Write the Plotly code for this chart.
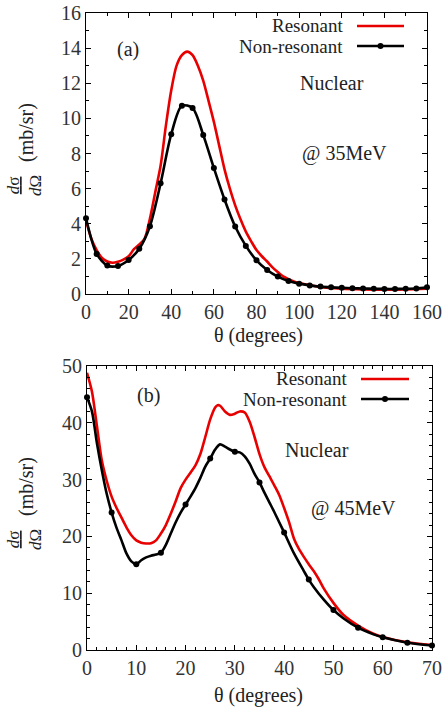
import plotly.graph_objects as go

W, H = 445, 709
FONT = "Liberation Serif, Times New Roman, serif"
RED = "rgb(232,0,0)"

# ---- panel (a) @ 35MeV ----
theta_a = list(range(0, 161, 5))
nonres_a = [4.31, 2.28, 1.62, 1.60, 1.94, 2.58, 3.86, 6.3, 9.1, 10.72, 10.59, 9.06, 7.17,
            5.38, 3.84, 2.74, 1.92, 1.37, 0.99, 0.74, 0.59, 0.49, 0.42, 0.38, 0.35, 0.33,
            0.31, 0.30, 0.29, 0.29, 0.30, 0.31, 0.38]
theta_a_res = [0, 2.5, 5, 7.5, 10, 12.5, 15, 17.5, 20, 22.5, 25, 27.5, 30, 32.5, 35, 37.5,
               40, 42.5, 45, 47.5, 50, 52.5, 55, 57.5, 60, 62.5, 65, 67.5, 70, 72.5, 75,
               77.5, 80, 82.5, 85, 87.5, 90, 92.5, 95, 97.5, 100, 110, 120, 130, 140, 150, 160]
res_a = [4.2, 3.15, 2.5, 2.05, 1.85, 1.78, 1.84, 1.96, 2.15, 2.55, 2.82, 3.15, 4.3, 5.8,
         7.3, 9.6, 11.6, 13.0, 13.6, 13.8, 13.6, 13.0, 12.15, 11.0, 9.8, 8.45, 7.1, 6.0,
         5.05, 4.25, 3.55, 3.0, 2.5, 2.15, 1.85, 1.52, 1.25, 1.0, 0.85, 0.72, 0.62, 0.4,
         0.3, 0.26, 0.25, 0.26, 0.3]

# ---- panel (b) @ 45MeV ----
theta_b_res = [0, 1, 2, 3, 4, 5, 6, 7, 8, 9, 10, 11, 12, 13, 14, 15, 16, 17, 18, 19, 20,
               21, 22, 23, 24, 25, 26, 26.5, 27, 28, 29, 30, 31, 32, 33, 34, 35, 36, 37,
               38, 39, 40, 41, 42, 43, 44, 45, 46, 47, 48, 50, 52, 55, 58, 60, 65, 70]
res_b = [48.8, 45.5, 39.5, 33.4, 29.8, 27.0, 25.0, 23.3, 21.6, 20.2, 19.3, 18.9, 18.75,
         18.8, 19.3, 20.5, 22.0, 24.0, 26.2, 28.5, 30.0, 31.2, 32.5, 34.5, 37.5, 40.6,
         42.7, 43.1, 43.0, 42.0, 41.4, 41.6, 42.0, 41.8, 40.2, 37.5, 34.5, 32.2, 30.6,
         29.0, 27.3, 25.0, 22.5, 19.6, 17.8, 16.4, 15.1, 13.9, 12.5, 10.9, 8.3, 6.2, 4.3,
         2.9, 2.3, 1.35, 0.85]
theta_b_line = [0, 1, 2, 3, 4, 5, 6, 7, 8, 9, 10, 11, 12, 13, 14, 15, 16, 17, 18, 19, 20,
                21, 22, 23, 24, 25, 26, 27, 28, 29, 30, 31, 32, 33, 34, 35, 36, 37, 38, 39,
                40, 42, 44, 45, 46, 48, 50, 52, 55, 58, 60, 65, 70]
nonres_b_line = [44.5, 42.0, 36.5, 31.7, 27.5, 24.2, 21.5, 19.3, 17.0, 15.6, 15.1, 15.8,
                 16.3, 16.6, 16.8, 17.1, 18.5, 20.5, 22.5, 24.2, 25.6, 27.0, 28.5, 30.3,
                 32.3, 33.7, 35.3, 36.2, 35.8, 35.3, 34.9, 34.8, 34.1, 32.8, 31.0, 29.5,
                 27.7, 26.0, 24.3, 22.5, 20.7, 17.0, 13.9, 12.4, 11.1, 8.9, 7.03, 5.6, 3.93,
                 2.8, 2.23, 1.29, 0.8]
theta_b = list(range(0, 71, 5))
nonres_b = [44.5, 24.2, 15.1, 17.1, 25.6, 33.7, 34.9, 29.5, 20.7, 12.4, 7.03, 3.93, 2.23,
            1.29, 0.8]


# window pixel -> paper fraction
def px(x):
    return x / W


def py(y):
    return 1 - y / H


fig = go.Figure()

# panel (a)
fig.add_trace(go.Scatter(x=theta_a_res, y=res_a, mode="lines", line=dict(color=RED, width=2.6, shape="spline", smoothing=0.8),
                         xaxis="x", yaxis="y", cliponaxis=False, showlegend=False))
fig.add_trace(go.Scatter(x=theta_a, y=nonres_a, mode="lines+markers",
                         line=dict(color="black", width=2.6, shape="spline", smoothing=0.8),
                         marker=dict(color="black", size=6),
                         xaxis="x", yaxis="y", cliponaxis=False, showlegend=False))

# panel (b)
fig.add_trace(go.Scatter(x=theta_b_res, y=res_b, mode="lines", line=dict(color=RED, width=2.6, shape="spline", smoothing=0.8),
                         xaxis="x2", yaxis="y2", cliponaxis=False, showlegend=False))
fig.add_trace(go.Scatter(x=theta_b_line, y=nonres_b_line, mode="lines",
                         line=dict(color="black", width=2.6, shape="spline", smoothing=0.8),
                         xaxis="x2", yaxis="y2", cliponaxis=False, showlegend=False))
fig.add_trace(go.Scatter(x=theta_b, y=nonres_b, mode="markers", marker=dict(color="black", size=6),
                         xaxis="x2", yaxis="y2", cliponaxis=False, showlegend=False))

axis_common = dict(
    showline=True, linecolor="black", linewidth=1, mirror="allticks",
    ticks="inside", ticklen=5, tickcolor="black", tickwidth=1,
    showgrid=False, zeroline=False, automargin=False, ticklabeloverflow="allow",
    tickfont=dict(family=FONT, size=20, color="#333"),
)

fig.update_layout(
    width=W, height=H, autosize=False,
    margin=dict(l=0, r=0, t=0, b=0, autoexpand=False),
    paper_bgcolor="white", plot_bgcolor="white",
    font=dict(family=FONT, size=20, color="#222"),
    xaxis=dict(axis_common, domain=[px(86), px(427)], range=[0, 160], dtick=20, anchor="y",
               minor=dict(dtick=10, ticks="inside", ticklen=3, tickcolor="black")),
    yaxis=dict(axis_common, domain=[py(294), py(13)], range=[0, 16], dtick=2, anchor="x",
               minor=dict(dtick=1, ticks="inside", ticklen=3, tickcolor="black")),
    xaxis2=dict(axis_common, domain=[px(87), px(432)], range=[0, 70], dtick=10, anchor="y2",
                minor=dict(dtick=2, ticks="inside", ticklen=3, tickcolor="black")),
    yaxis2=dict(axis_common, domain=[py(650), py(366)], range=[0, 50], dtick=10, anchor="x2",
                minor=dict(dtick=2, ticks="inside", ticklen=3, tickcolor="black")),
)


def text(x, y, s, size=20, xanchor="center", angle=0):
    fig.add_annotation(x=px(x), y=py(y), xref="paper", yref="paper", text=s, showarrow=False,
                       xanchor=xanchor, yanchor="middle", textangle=angle,
                       font=dict(family=FONT, size=size, color="#222"))


def legend_rows(xt, x0, x1, y1, y2):
    # gnuplot style key: label on the left, sample on the right
    text(xt, y1, "Resonant", size=19, xanchor="right")
    text(xt, y2, "Non-resonant", size=19, xanchor="right")
    fig.add_shape(type="line", xref="paper", yref="paper", x0=px(x0), x1=px(x1), y0=py(y1), y1=py(y1),
                  line=dict(color=RED, width=2.6))
    fig.add_shape(type="line", xref="paper", yref="paper", x0=px(x0), x1=px(x1), y0=py(y2), y1=py(y2),
                  line=dict(color="black", width=2.6))
    xm = (x0 + x1) / 2
    fig.add_shape(type="circle", xref="paper", yref="paper", x0=px(xm - 3), x1=px(xm + 3),
                  y0=py(y2 + 3), y1=py(y2 - 3), fillcolor="black", line=dict(color="black", width=0))


# panel (a) texts
text(128, 49, "(a)")
text(332, 83, "Nuclear")
text(344, 153, "@ 35MeV")
legend_rows(345, 357, 404, 26, 46)
text(258, 336, "θ (degrees)")
text(24, 186, "<u><i>d</i>σ</u><br><i>d</i>Ω", size=17, angle=-90)
text(26, 133, "(mb/sr)", angle=-90)

# panel (b) texts
text(148, 395, "(b)")
text(317, 450, "Nuclear")
text(353, 508, "@ 45MeV")
legend_rows(349, 361, 409, 379, 399)
text(258, 695, "θ (degrees)")
text(24, 540, "<u><i>d</i>σ</u><br><i>d</i>Ω", size=17, angle=-90)
text(26, 487, "(mb/sr)", angle=-90)

# drop the default 8px body margin so the figure sits at the window corner
fig.write_html("out.html", config={"displayModeBar": False},
               post_script="document.body.style.margin='0px';")
